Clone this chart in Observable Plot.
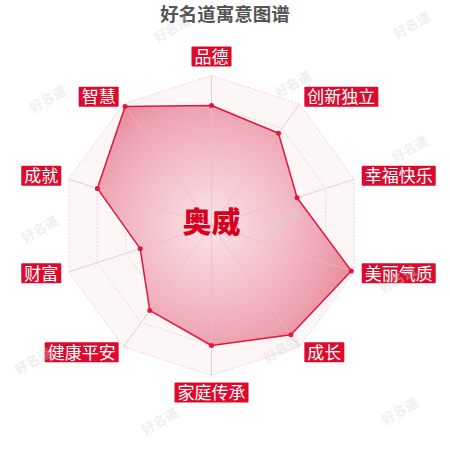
<!DOCTYPE html>
<html>
<head>
<meta charset="utf-8">
<script src="https://cdn.jsdelivr.net/npm/d3@7"></script>
<script src="https://cdn.jsdelivr.net/npm/@observablehq/plot@0.6"></script>
<style>
  html, body { margin: 0; padding: 0; background: #fff; }
  #wrap { position: relative; width: 450px; height: 450px; font-family: "Noto Sans CJK SC", "Noto Sans", sans-serif; }
  #title { position: absolute; left: 0; top: 0; width: 450px; line-height: normal; text-align: center; font-size: 18.5px; font-weight: bold; color: #555; }
  #wrap > svg { position: absolute; left: 0; top: 22px; }
  .wm { position: absolute; font-size: 13px; color: #d8d8d8; opacity: 0.4; transform: rotate(-30deg); white-space: nowrap; font-family: "Noto Sans CJK SC", serif; font-weight: bold; pointer-events: none; }
</style>
</head>
<body>
<div id="wrap">
  <div id="title">好名道寓意图谱</div>
</div>
<script>
// ---- data ----
const axes = ["品德", "创新独立", "幸福快乐", "美丽气质", "成长", "家庭传承", "健康平安", "财富", "成就", "智慧"];
const values = [80, 76, 60, 98, 90, 80, 70, 50, 80, 98];
const levels = [20, 40, 60, 80, 100];
const maxValue = 100;
const centerName = "奥威";
const watermarkText = "好名道";

// ---- derived geometry (data space, y up) ----
const n = axes.length;
const angle = i => (2 * Math.PI * i) / n;
const pts = values.map((v, i) => ({axis: axes[i], value: v, x: Math.sin(angle(i)) * v, y: Math.cos(angle(i)) * v}));
const gridPts = levels.flatMap(l => axes.map((a, i) => ({level: l, x: Math.sin(angle(i)) * l, y: Math.cos(angle(i)) * l})));
const outer = axes.map((a, i) => ({x: Math.sin(angle(i)) * maxValue, y: Math.cos(angle(i)) * maxValue}));
const spokes = axes.map((a, i) => ({x1: 0, y1: 0, x2: Math.sin(angle(i)) * maxValue, y2: Math.cos(angle(i)) * maxValue}));
const labelR = maxValue * 1.053;
const labels = axes.map((a, i) => {
  const s = Math.sin(angle(i)), c = Math.cos(angle(i));
  const side = Math.abs(s) < 1e-6 ? (c > 0 ? "top" : "bottom") : (s > 0 ? "right" : "left");
  return {axis: a, x: s * labelR, y: c * labelR, side};
});

const W = 450, H = 428;
const gradMark = (index, scales) => {
  const ns = "http://www.w3.org/2000/svg";
  const defs = document.createElementNS(ns, "defs");
  const g = document.createElementNS(ns, "radialGradient");
  g.setAttribute("id", "radarGrad");
  g.setAttribute("gradientUnits", "userSpaceOnUse");
  g.setAttribute("cx", scales.x(0));
  g.setAttribute("cy", scales.y(0));
  g.setAttribute("r", scales.x(maxValue) - scales.x(0));
  [["0", "#fbe3e8"], ["0.45", "#f4c0ca"], ["0.8", "#eda2b0"], ["1", "#e78799"]].forEach(([o, col]) => {
    const st = document.createElementNS(ns, "stop");
    st.setAttribute("offset", o);
    st.setAttribute("stop-color", col);
    g.appendChild(st);
  });
  defs.appendChild(g);
  return defs;
};

const labelText = (side, opts) => Plot.text(labels.filter(d => d.side === side), {
  x: "x", y: "y", text: "axis", fill: "white", fontSize: 17,
  fontFamily: "Noto Sans CJK SC", lineAnchor: "middle", ...opts
});

const chart = Plot.plot({
  width: W, height: H,
  margin: 0,
  x: {domain: [-211 / 1.5, (W - 211) / 1.5], range: [0, W], axis: null},
  y: {domain: [-(H - 203) / 1.5, 203 / 1.5], range: [H, 0], axis: null},
  style: {background: "transparent", overflow: "visible"},
  marks: [
    gradMark,
    Plot.line(outer, {x: "x", y: "y", curve: "linear-closed", fill: "#fdf6f7", stroke: "none"}),
    Plot.line(gridPts, {x: "x", y: "y", z: "level", curve: "linear-closed", stroke: "#f2cdd5", strokeWidth: 1, strokeDasharray: "1,2.5"}),
    Plot.line(pts, {x: "x", y: "y", curve: "linear-closed", fill: "url(#radarGrad)", stroke: "none"}),
    Plot.link(spokes, {x1: "x1", y1: "y1", x2: "x2", y2: "y2", stroke: "#efb9c4", strokeWidth: 1, strokeOpacity: 0.75}),
    Plot.line(pts, {x: "x", y: "y", curve: "linear-closed", stroke: "#e2173d", strokeWidth: 1.5}),
    Plot.dot(pts, {x: "x", y: "y", r: 2.5, fill: "#e2173d", stroke: "none"}),
    labelText("top", {textAnchor: "middle", dy: -10}),
    labelText("bottom", {textAnchor: "middle", dy: 10}),
    labelText("right", {textAnchor: "start", dx: 3}),
    labelText("left", {textAnchor: "end", dx: -3}),
    Plot.text([centerName], {x: () => 0, y: () => 0, text: d => d, dy: -2, fontSize: 29, fontWeight: 900, fill: "#d8001c", fontFamily: "Noto Sans CJK SC"})
  ]
});

const wrap = document.getElementById("wrap");
wrap.appendChild(chart);

// label background boxes
const ns = "http://www.w3.org/2000/svg";
chart.querySelectorAll("text").forEach(t => {
  if (!axes.includes(t.textContent)) return;
  const b = t.getBBox();
  const r = document.createElementNS(ns, "rect");
  const cy = b.y + b.height / 2 + 1;
  r.setAttribute("x", b.x - 3);
  r.setAttribute("y", cy - 10);
  r.setAttribute("width", b.width + 6);
  r.setAttribute("height", 20);
  r.setAttribute("rx", 1);
  r.setAttribute("fill", "#dc0a2c");
  if (t.getAttribute("transform")) r.setAttribute("transform", t.getAttribute("transform"));
  t.parentNode.insertBefore(r, t);
});

// faint watermarks
[[172, 28], [412, 24], [48, 98], [293, 83], [410, 148], [40, 228], [283, 220], [398, 278], [33, 360], [282, 348], [160, 420], [400, 410]].forEach(([x, y]) => {
  const s = document.createElement("span");
  s.className = "wm";
  s.textContent = watermarkText;
  s.style.left = (x - 20) + "px";
  s.style.top = (y - 9) + "px";
  wrap.appendChild(s);
});
</script>
</body>
</html>
